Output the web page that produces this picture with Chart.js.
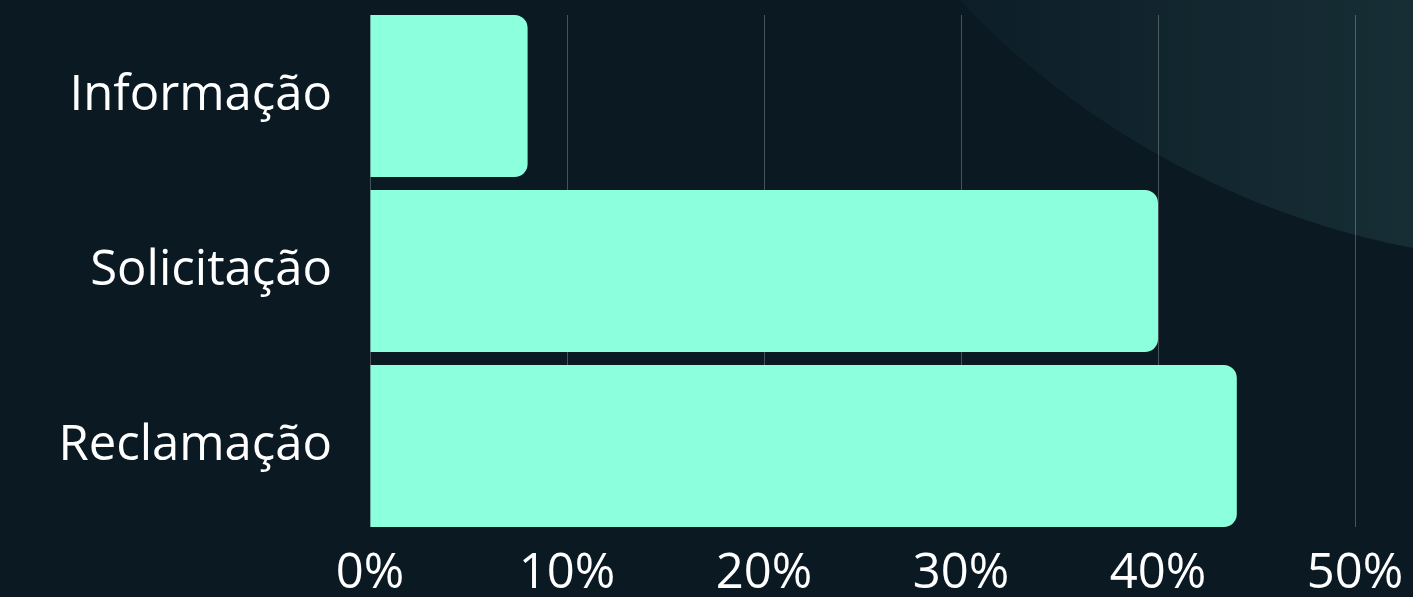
<!DOCTYPE html>
<html>
<head>
<meta charset="utf-8">
<script src="https://cdn.jsdelivr.net/npm/chart.js@4"></script>
<style>
  html, body { margin: 0; padding: 0; width: 1413px; height: 597px; overflow: hidden; background: #0b1923; }
  .wrap { position: relative; width: 1413px; height: 597px; overflow: hidden; }
  .glow {
    position: absolute; left: 729px; top: -1421px; width: 1684px; height: 1684px; border-radius: 50%;
    background: linear-gradient(90deg, #0b1a24 0%, #0d1e28 14%, #172e35 41%, #1c363d 70%);
  }
  canvas { position: absolute; left: 0; top: 0; }
</style>
</head>
<body>
<div class="wrap">
  <div class="glow"></div>
  <canvas id="chart" width="1413" height="597"></canvas>
</div>
<script>
const categories = ["Informação", "Solicitação", "Reclamação"];
const shares = [8, 40, 44];
const xTicks = [0, 10, 20, 30, 40, 50];

const font = { family: "'Open Sans', sans-serif", size: 49 };

new Chart(document.getElementById("chart"), {
  type: "bar",
  data: {
    datasets: [{
      data: shares.map((v, i) => ({ x: v, y: i })),
      backgroundColor: "#8cffdc",
      borderRadius: 13,
      borderSkipped: "start",
      categoryPercentage: 1,
      barPercentage: 0.926,
    }],
  },
  options: {
    indexAxis: "y",
    responsive: false,
    animation: false,
    devicePixelRatio: 1,
    layout: { padding: { top: 15, right: 58, left: 0, bottom: 0 } },
    plugins: { legend: { display: false }, tooltip: { enabled: false } },
    scales: {
      x: {
        min: xTicks[0],
        max: xTicks[xTicks.length - 1],
        ticks: { stepSize: 10, callback: (v) => v + "%", color: "#ffffff", font, padding: 18, maxRotation: 0 },
        grid: { color: "rgba(255,255,255,0.25)", drawTicks: false },
        border: { display: false },
        afterFit: (s) => { s.height = 70; s.paddingLeft = 0; s.paddingRight = 0; },
      },
      y: {
        type: "linear",
        reverse: true,
        offset: false,
        min: -0.463,
        max: categories.length - 1 + 0.463,
        ticks: { stepSize: 1, includeBounds: false, callback: (v) => categories[v] ?? "", color: "#ffffff", font, padding: 38 },
        grid: { display: false, drawTicks: false, offset: false },
        border: { display: false },
        afterFit: (s) => { s.width = 370; s.paddingTop = 0; s.paddingBottom = 0; },
      },
    },
  },
});
</script>
</body>
</html>
